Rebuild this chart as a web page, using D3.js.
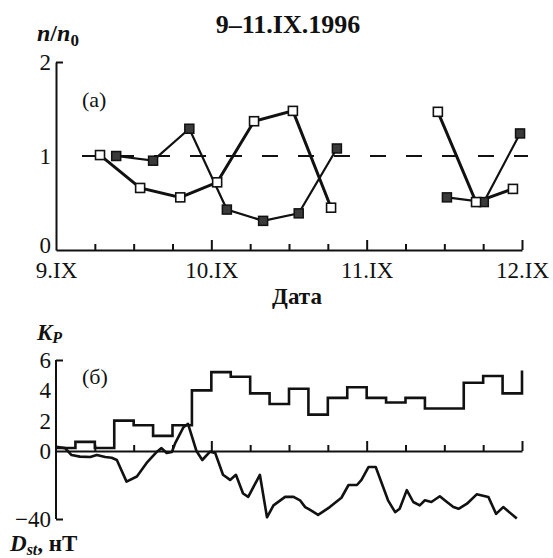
<!DOCTYPE html>
<html>
<head>
<meta charset="utf-8">
<script src="https://cdn.jsdelivr.net/npm/d3@7"></script>
<style>
  body { margin: 0; background: #fff; }
  svg, svg text { font-family: "Liberation Serif", "Times New Roman", serif; }
</style>
</head>
<body>
<div id="chart"></div>
<script>
// ---- data (hours since 9.IX 00 UT) ----
const dayLabels = ["9.IX", "10.IX", "11.IX", "12.IX"];
const dayHours = [0, 24, 48, 72];
const tickHours = d3.range(0, 73, 6);

// panel (a): open squares, null = gap in the series
const openHours  = [6.8, 13.0, 19.2, 24.9, 30.6, 36.6, 42.5, null, 59.0, 64.9, 70.6];
const openValues = [1.01, 0.66, 0.56, 0.72, 1.37, 1.48, 0.45, null, 1.47, 0.51, 0.65];

// panel (a): filled squares
const filledHours  = [9.3, 15.0, 20.6, 26.4, 32.0, 37.5, 43.4, null, 60.4, 66.1, 71.7];
const filledValues = [1.0, 0.95, 1.29, 0.43, 0.31, 0.39, 1.08, null, 0.56, 0.51, 1.24];

// panel (б): Kp, 3-hour intervals (last value only gives the final riser)
const kpValues = [0.2, 0.6, 0.2, 2.0, 1.7, 1.0, 1.7, 4.0, 5.2, 4.9, 3.8, 3.1,
                  4.1, 2.4, 3.5, 4.2, 3.5, 3.2, 3.5, 2.8, 2.8, 4.5, 4.95, 3.8, 5.3];

// panel (б): Dst, nT
const dstHours = [0, 1.4, 2.4, 3.7, 5.3, 6.3, 7.6, 8.6, 9.4, 10.9, 12.5, 14.0, 15.6, 16.3,
  17.1, 17.9, 18.4, 19.7, 20.4, 21.7, 22.6, 23.8, 24.6, 25.8, 26.9, 27.8, 28.9, 29.7,
  31.5, 32.6, 33.6, 35.4, 36.7, 37.7, 38.5, 39.2, 40.5, 42.3, 44.1, 45.2, 46.5, 47.2,
  48.3, 49.4, 51.3, 52.4, 53.1, 54.2, 55.2, 56.2, 57.0, 58.0, 59.3, 60.4, 61.4, 62.2,
  63.5, 65.0, 66.8, 68.0, 69.1, 71.2];
const dstValues = [2.5, 1.7, -2.4, -3.3, -3.5, -2.4, -3.5, -4, -5.3, -18, -15, -7, -0.4, 1.7,
  -1.2, -0.6, 4.5, 14, 16, 0, -5.3, -0.4, -1.2, -14, -17, -14, -25, -27,
  -14, -39, -32, -27, -27, -29, -33, -34.5, -37.6, -33, -27.5, -20, -20, -17,
  -9.4, -9.4, -29, -36, -34, -23, -30, -32, -29, -30, -26.6, -30, -33, -34,
  -31, -25.5, -27, -37, -33, -39.7];

// ---- layout ----
const W = 553, H = 558;
const serif = "'Liberation Serif', 'Times New Roman', serif";
const svg = d3.select("#chart").append("svg").attr("width", W).attr("height", H);
svg.append("rect").attr("width", W).attr("height", H).attr("fill", "#fff");

const x = d3.scaleLinear().domain([0, 72]).range([56, 522]);
const yA = d3.scaleLinear().domain([0, 2]).range([250, 62]);
const yKp = d3.scaleLinear().domain([0, 6]).range([451, 360]);
const yDst = d3.scaleLinear().domain([-40, 0]).range([519, 451]);

const ink = "#111";

function styleAxis(g) {
  g.attr("font-family", serif);
  g.selectAll("path.domain").attr("stroke", ink).attr("stroke-width", 2);
  g.selectAll(".tick line").attr("stroke", ink).attr("stroke-width", 2);
  g.selectAll(".tick text").attr("fill", ink)
    .style("font-family", serif).style("font-size", "23px");
}

// time axis with upward ticks, minor and major
function timeAxis(y0, withLabels) {
  const minor = svg.append("g").attr("transform", `translate(0,${y0})`)
    .call(d3.axisBottom(x).tickValues(tickHours.filter(h => h % 24 !== 0))
      .tickSizeInner(-6).tickSizeOuter(0).tickFormat(""));
  styleAxis(minor);
  const major = svg.append("g").attr("transform", `translate(0,${y0})`)
    .call(d3.axisBottom(x).tickValues(dayHours)
      .tickSizeInner(-10).tickSizeOuter(0).tickPadding(12)
      .tickFormat((d, i) => withLabels ? dayLabels[i] : ""));
  styleAxis(major);
  major.select("path.domain").remove();
  major.selectAll(".tick").filter(d => d === 0).select("line").remove();
}

// ---- panel (a) ----
svg.append("line")
  .attr("x1", 82).attr("x2", 528).attr("y1", yA(1)).attr("y2", yA(1))
  .attr("stroke", ink).attr("stroke-width", 2).attr("stroke-dasharray", "16,20");

const gLeftA = svg.append("g").attr("transform", `translate(${x(0)},0)`)
  .call(d3.axisLeft(yA).tickValues([0, 1, 2]).tickFormat(d3.format("d"))
    .tickSizeInner(0).tickSizeOuter(0).tickPadding(5));
styleAxis(gLeftA);
gLeftA.selectAll(".tick").filter(d => d === 0).select("text").attr("dy", "0.1em");
const gCapA = svg.append("g").attr("transform", `translate(${x(0)},0)`)
  .call(d3.axisRight(yA).tickValues([2]).tickSize(7).tickFormat(""));
styleAxis(gCapA);
gCapA.select("path.domain").remove();

timeAxis(yA(0), true);

const seriesLine = d3.line()
  .defined(d => d.v != null)
  .x(d => x(d.t)).y(d => yA(d.v));

const openPts = openHours.map((t, i) => ({ t, v: openValues[i] }));
const filledPts = filledHours.map((t, i) => ({ t, v: filledValues[i] }));

svg.append("path").datum(filledPts).attr("d", seriesLine)
  .attr("fill", "none").attr("stroke", ink).attr("stroke-width", 2.2);
svg.append("path").datum(openPts).attr("d", seriesLine)
  .attr("fill", "none").attr("stroke", ink).attr("stroke-width", 3);

const sq = 9;
svg.append("g").selectAll("rect")
  .data(filledPts.filter(d => d.v != null))
  .join("rect")
  .attr("x", d => x(d.t) - sq / 2).attr("y", d => yA(d.v) - sq / 2)
  .attr("width", sq).attr("height", sq)
  .attr("fill", "#3a3a3a").attr("stroke", ink).attr("stroke-width", 1.5);
svg.append("g").selectAll("rect")
  .data(openPts.filter(d => d.v != null))
  .join("rect")
  .attr("x", d => x(d.t) - sq / 2).attr("y", d => yA(d.v) - sq / 2)
  .attr("width", sq).attr("height", sq)
  .attr("fill", "#fff").attr("stroke", ink).attr("stroke-width", 1.6);

// texts of panel (a)
svg.append("text").attr("x", 288).attr("y", 33).attr("text-anchor", "middle")
  .attr("font-size", 26).attr("font-weight", "bold").attr("fill", ink)
  .text("9–11.IX.1996");

const nLab = svg.append("text").attr("x", 37).attr("y", 41)
  .attr("font-size", 24).attr("font-weight", "bold").attr("fill", ink);
nLab.append("tspan").attr("font-style", "italic").text("n");
nLab.append("tspan").text("/");
nLab.append("tspan").attr("font-style", "italic").text("n");
nLab.append("tspan").attr("font-size", 17).attr("dy", 5).text("0");

svg.append("text").attr("x", 82).attr("y", 107)
  .attr("font-size", 22).attr("fill", ink).text("(a)");

svg.append("text").attr("x", 297).attr("y", 304).attr("text-anchor", "middle")
  .attr("font-size", 23).attr("font-weight", "bold").attr("fill", ink).text("Дата");

// ---- panel (б) ----
const gLeftB = svg.append("g").attr("transform", `translate(${x(0)},0)`)
  .call(d3.axisLeft(yKp).tickValues([0, 2, 4, 6]).tickFormat(d3.format("d"))
    .tickSizeInner(0).tickSizeOuter(0).tickPadding(5));
styleAxis(gLeftB);
gLeftB.select("path.domain").remove();

const gDstLab = svg.append("g").attr("transform", `translate(${x(0)},0)`)
  .call(d3.axisLeft(yDst).tickValues([-40]).tickSizeInner(0).tickSizeOuter(0).tickPadding(5)
    .tickFormat(d => "−" + Math.abs(d)));
styleAxis(gDstLab);
gDstLab.select("path.domain").remove();

svg.append("line").attr("x1", x(0)).attr("x2", x(0))
  .attr("y1", yKp(6)).attr("y2", yDst(-40))
  .attr("stroke", ink).attr("stroke-width", 2);

const gCapB = svg.append("g").attr("transform", `translate(${x(0)},0)`);
gCapB.append("g").call(d3.axisRight(yKp).tickValues([6]).tickSize(7).tickFormat(""));
gCapB.append("g").call(d3.axisRight(yDst).tickValues([-40]).tickSize(7).tickFormat(""));
styleAxis(gCapB);
gCapB.selectAll("path.domain").remove();

timeAxis(yKp(0), false);

const kpPts = kpValues.map((v, i) => ({ t: i * 3, v }));
svg.append("path").datum(kpPts)
  .attr("d", d3.line().curve(d3.curveStepAfter).x(d => x(d.t)).y(d => yKp(d.v)))
  .attr("fill", "none").attr("stroke", ink).attr("stroke-width", 2.6);

const dstPts = dstHours.map((t, i) => ({ t, v: dstValues[i] }));
svg.append("path").datum(dstPts)
  .attr("d", d3.line().x(d => x(d.t)).y(d => yDst(d.v)))
  .attr("fill", "none").attr("stroke", ink).attr("stroke-width", 2.6)
  .attr("stroke-linejoin", "round");

// texts of panel (б)
const kLab = svg.append("text").attr("x", 37).attr("y", 340)
  .attr("font-size", 23).attr("font-weight", "bold").attr("font-style", "italic").attr("fill", ink);
kLab.append("tspan").text("K");
kLab.append("tspan").attr("font-size", 16).attr("dy", 3).text("P");

svg.append("text").attr("x", 82).attr("y", 384)
  .attr("font-size", 22).attr("fill", ink).text("(б)");

const dLab = svg.append("text").attr("x", 10).attr("y", 551)
  .attr("font-size", 23).attr("font-weight", "bold").attr("fill", ink);
dLab.append("tspan").attr("font-style", "italic").text("D");
dLab.append("tspan").attr("font-style", "italic").attr("font-size", 16).attr("dy", 4).text("st");
dLab.append("tspan").attr("dy", -4).text(", нТ");
</script>
</body>
</html>
